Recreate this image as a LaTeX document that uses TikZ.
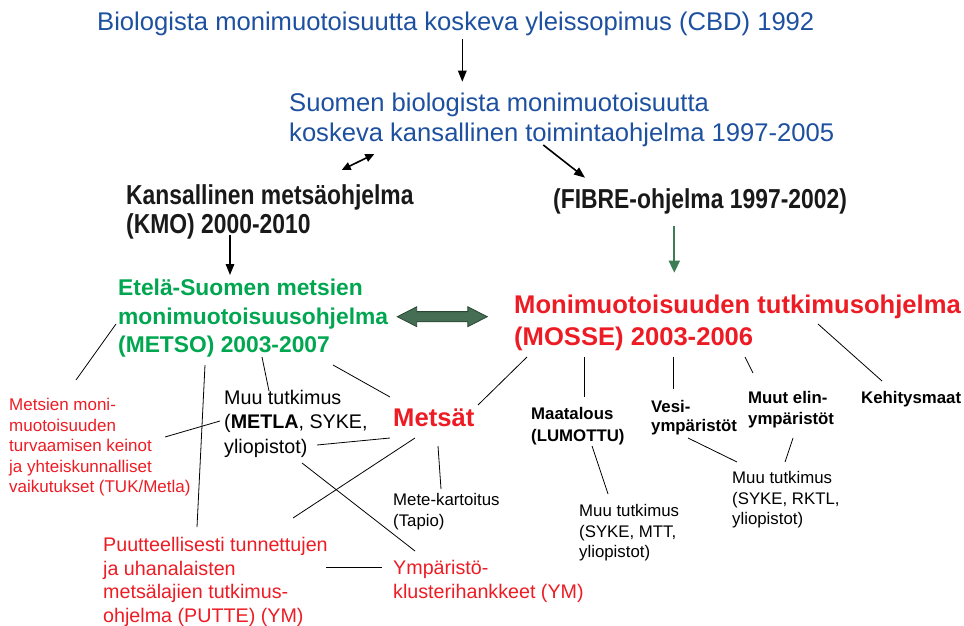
\documentclass[tikz,border=0pt]{standalone}
\usepackage{fontspec}
\setmainfont{Liberation Sans}
\newfontfamily\narrowsans[FakeStretch=0.835]{Liberation Sans}
\usetikzlibrary{arrows.meta,shapes.arrows}
\definecolor{cbdblue}{RGB}{30,80,160}
\definecolor{metsogreen}{RGB}{0,166,80}
\definecolor{mossered}{RGB}{237,28,36}
\definecolor{linkgreen}{RGB}{70,110,85}
\definecolor{linkdark}{RGB}{40,70,50}
\definecolor{fibregreen}{RGB}{60,125,85}
\tikzset{
  txt/.style={anchor=north west, inner sep=0pt, align=left},
  cbdtxt/.style={txt, text=cbdblue, font=\fontsize{25.6}{30}\selectfont},
  headtxt/.style={txt, text=black!90, font={\narrowsans\bfseries\fontsize{27.4}{28.4}\selectfont}},
  metsotxt/.style={txt, text=metsogreen, font=\fontsize{22.8}{28.5}\selectfont\bfseries},
  mossetxt/.style={txt, text=mossered, font=\fontsize{25.6}{32}\selectfont\bfseries},
  redbig/.style={txt, text=mossered, font=\fontsize{19.7}{23.7}\selectfont},
  redsmall/.style={txt, text=mossered, font=\fontsize{17}{20.5}\selectfont},
  muutxt/.style={txt, font=\fontsize{19.7}{24.5}\selectfont},
  smalltxt/.style={txt, font=\fontsize{16.8}{20.5}\selectfont},
  smallbold/.style={txt, font=\fontsize{16.8}{20.5}\selectfont\bfseries},
  arr/.style={-{Triangle[length=11pt,width=8.5pt]}, line width=1.6pt},
  darr/.style={{Triangle[length=9pt,width=8pt]}-{Triangle[length=9pt,width=8pt]}, line width=1.6pt},
  conn/.style={line width=0.8pt}
}
\begin{document}
\begin{tikzpicture}[x=1pt,y=-1pt]
    \useasboundingbox (0,0) rectangle (964,626);
    \node[cbdtxt] (cbd) at (97,11.7) {Biologista monimuotoisuutta koskeva yleissopimus (CBD) 1992};
    \node[cbdtxt] (suomen) at (289,92.8) {Suomen biologista monimuotoisuutta\\koskeva kansallinen toimintaohjelma 1997-2005};
    \node[headtxt] (kmo) at (126,184.7) {Kansallinen metsäohjelma\\(KMO) 2000-2010};
    \node[headtxt] (fibre) at (553,188.4) {(FIBRE-ohjelma 1997-2002)};
    \node[metsotxt] (metso) at (118,278.9) {Etelä-Suomen metsien\\monimuotoisuusohjelma\\(METSO) 2003-2007};
    \node[mossetxt] (mosse) at (514,294.8) {Monimuotoisuuden tutkimusohjelma\\(MOSSE) 2003-2006};
    \node[mossetxt] (metsat) at (393,408.8) {Metsät};
    \node[muutxt] (muu1) at (224,390) {Muu tutkimus\\(\textbf{METLA}, SYKE,\\yliopistot)};
    \node[redsmall] (tuk) at (9,398.2) {Metsien moni-\\muotoisuuden\\turvaamisen keinot\\ja yhteiskunnalliset\\vaikutukset (TUK/Metla)};
    \node[smalltxt] (mete) at (393,493.3) {Mete-kartoitus\\(Tapio)};
    \node[redbig] (putte) at (103,537) {Puutteellisesti tunnettujen\\ja uhanalaisten\\metsälajien tutkimus-\\ohjelma (PUTTE) (YM)};
    \node[redbig] (ympa) at (393,560) {Ympäristö-\\klusterihankkeet (YM)};
    \node[smallbold, font=\fontsize{16.8}{21.5}\selectfont\bfseries] (maat) at (531,407.3) {Maatalous\\(LUMOTTU)};
    \node[smallbold, font=\fontsize{16.8}{19.5}\selectfont\bfseries] (vesi) at (651,399.7) {Vesi-\\ympäristöt};
    \node[smallbold] (elin) at (748,391.3) {Muut elin-\\ympäristöt};
    \node[smallbold] (kehit) at (861,391.3) {Kehitysmaat};
    \node[smalltxt] (muu2) at (579,504.3) {Muu tutkimus\\(SYKE, MTT,\\yliopistot)};
    \node[smalltxt] (muu3) at (732,471.3) {Muu tutkimus\\(SYKE, RKTL,\\yliopistot)};
    \node[double arrow, fill=linkgreen, draw=linkdark, line width=0.8pt, minimum height=90pt,
          inner sep=4.7pt, double arrow head extend=4.8pt, double arrow tip angle=54] (link) at (442.3,316.7) {};
    \draw[arr] ([shift={(365.3,27.3)}]cbd.north west) -- ([shift={(173.3,-11.1)}]suomen.north west);
    \draw[darr] ([shift={(85.3,61.2)}]suomen.north west) -- ([shift={(215.7,-14.7)}]kmo.north west);
    \draw[arr] ([shift={(254.3,52.2)}]suomen.north west) -- ([shift={(32,-10.7)}]fibre.north west);
    \draw[arr] ([shift={(104,50)}]kmo.north west) -- ([shift={(112,-3.9)}]metso.north west);
    \draw[-{Triangle[length=12pt,width=11pt]}, draw=fibregreen, fill=fibregreen, line width=1.8pt] ([shift={(121.3,37.6)}]fibre.north west) -- ([shift={(160.3,-22.1)}]mosse.north west);
    \draw[conn] ([shift={(-2,45.1)}]metso.north west) -- ([shift={(67,-18.2)}]tuk.north west);
    \draw[conn] ([shift={(144,78.1)}]metso.north west) -- ([shift={(45,1)}]muu1.north west);
    \draw[conn] ([shift={(215,86.1)}]metso.north west) -- ([shift={(-3,-11.8)}]metsat.north west);
    \draw[conn] ([shift={(156,38.8)}]tuk.north west) -- ([shift={(-4,31)}]muu1.north west);
    \draw[conn] ([shift={(93,55)}]muu1.north west) -- ([shift={(-3,29.2)}]metsat.north west);
    \draw[conn] ([shift={(22,29.2)}]metsat.north west) -- ([shift={(190,-19)}]putte.north west);
    \draw[conn] ([shift={(78,73)}]muu1.north west) -- ([shift={(22,-9)}]ympa.north west);
    \draw[conn] ([shift={(45,37.2)}]metsat.north west) -- ([shift={(48,-4.3)}]mete.north west);
    \draw[conn] ([shift={(87,86.1)}]metso.north west) -- ([shift={(94,-10)}]putte.north west);
    \draw[conn] ([shift={(223,30)}]putte.north west) -- ([shift={(-11,7)}]ympa.north west);
    \draw[conn] ([shift={(13,62.2)}]mosse.north west) -- ([shift={(85,-3.8)}]metsat.north west);
    \draw[conn] ([shift={(70,62.2)}]mosse.north west) -- ([shift={(53,-10.3)}]maat.north west);
    \draw[conn] ([shift={(159,62.2)}]mosse.north west) -- ([shift={(22,-10.7)}]vesi.north west);
    \draw[conn] ([shift={(231,62.2)}]mosse.north west) -- ([shift={(5,-18.3)}]elin.north west);
    \draw[conn] ([shift={(304,29.2)}]mosse.north west) -- ([shift={(21,-10.3)}]kehit.north west);
    \draw[conn] ([shift={(61,38.7)}]maat.north west) -- ([shift={(29,-10.3)}]muu2.north west);
    \draw[conn] ([shift={(37,38.3)}]vesi.north west) -- ([shift={(5,-9.3)}]muu3.north west);
    \draw[conn] ([shift={(45,46.7)}]elin.north west) -- ([shift={(53,-9.3)}]muu3.north west);
\end{tikzpicture}
\end{document}
